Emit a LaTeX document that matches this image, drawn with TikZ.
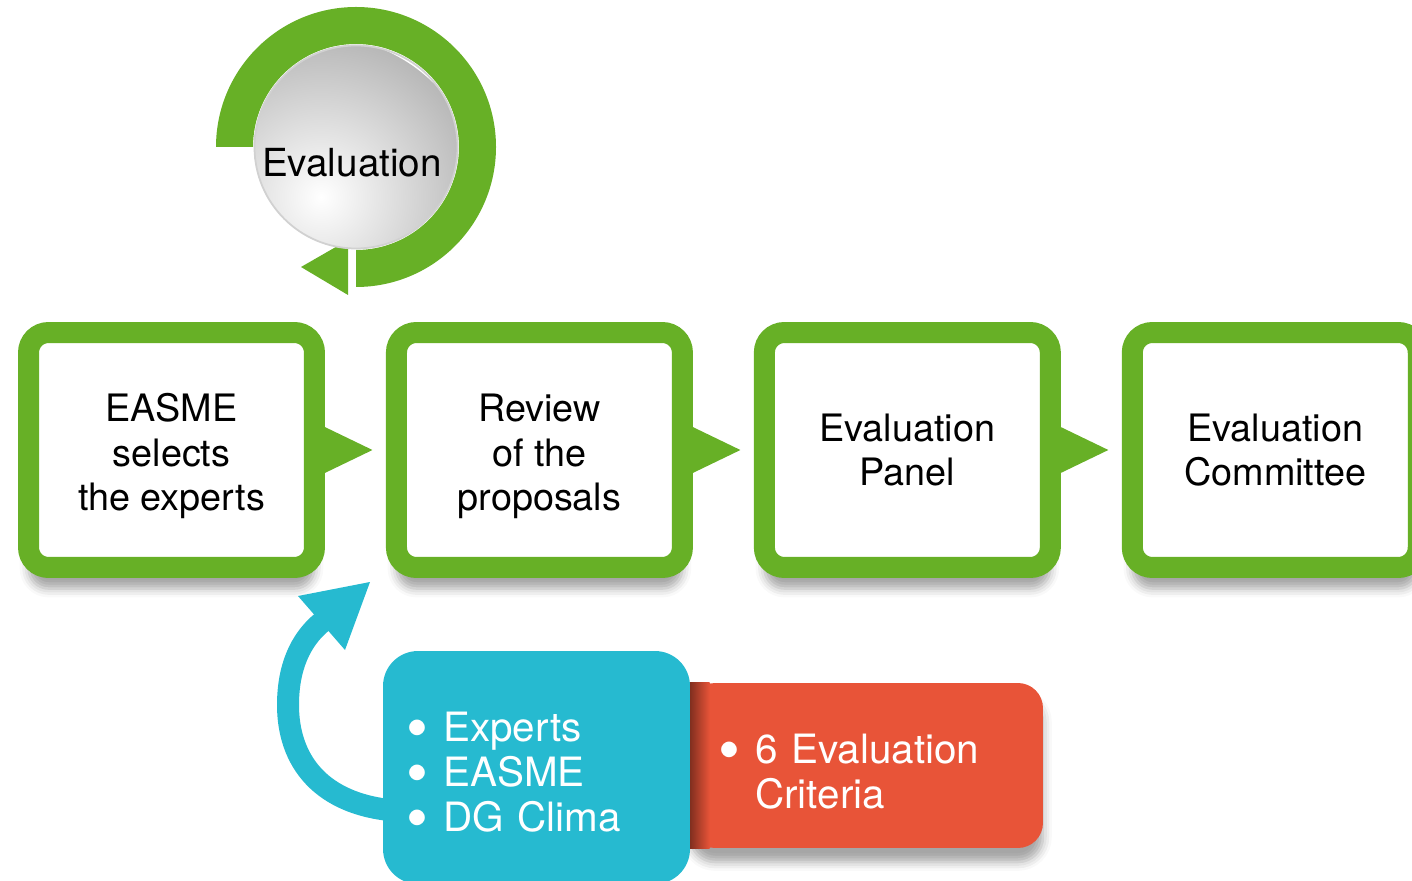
\documentclass[tikz,border=0pt]{standalone}
\usepackage{fontspec}
\setmainfont{TeX Gyre Heros}
\usetikzlibrary{positioning,calc,shadows.blur}
\definecolor{evgreen}{RGB}{103,176,38}
\definecolor{evblue}{RGB}{38,186,208}
\definecolor{evred}{RGB}{232,84,56}
\newcommand\evbullet{\makebox[0.8em][l]{\hspace{-0.12em}\smash{\raisebox{-0.2em}{\scalebox{1.55}{\textbullet}}}}}
\newcommand\evtop[1]{\rule{0pt}{#1}}

\begin{document}
\begin{tikzpicture}[x=0.02cm,y=-0.02cm,
    stagebox/.style={draw=evgreen,fill=white,line width=0.42cm,outer sep=0pt,
      rounded corners=0.4cm,minimum width=5.72cm,minimum height=4.7cm,align=center,
      font=\fontsize{21.5}{25.5}\selectfont,
      blur shadow={shadow xshift=0pt,shadow yshift=-12pt,shadow blur radius=5pt,shadow opacity=35}},
    listtext/.style={text=white,align=left,font=\fontsize{23}{25.5}\selectfont},
    node distance=1.64cm]
      \useasboundingbox(0,0)rectangle(1412,881);
      \clip(0,0)rectangle(1412,881);

      \node[stagebox](b1) at (171.5,450) {\evtop{23pt}EASME\\selects\\the experts};
      \node[stagebox,right=of b1](b2) {\evtop{23pt}Review\\of the\\proposals};
      \node[stagebox,right=of b2](b3) {Evaluation\\Panel};
      \node[stagebox,right=of b3](b4) {Evaluation\\Committee};

      \foreach \a in {b1,b2,b3}
        \fill[evgreen]($(\a.east)+(0,-28)$)--($(\a.east)+(58,0)$)--($(\a.east)+(0,28)$)--cycle;

      \coordinate(ring) at (356,147);
      \fill[evgreen]($(ring)+(180:140)$)arc[start angle=180,end angle=450,radius=140]
        --($(ring)+(90:103)$)arc[start angle=450,end angle=180,radius=103]--cycle;
      \fill[evgreen](348,240)--(348,295)--(301,267)--cycle;
      \begin{scope}
      \clip(ring)circle(102);
      \shade[inner color=white,outer color=black!28]($(ring)+(-35,50)$)circle(160);
      \end{scope}
      \draw[black!18,line width=1pt](ring)circle(101.5);
      \node[font=\fontsize{22}{26}\selectfont](evtitle) at (352,163) {Evaluation};

      \node[fill=evred,rounded corners=0.5cm,minimum width=7.06cm,minimum height=3.3cm,
        text width=5.74cm,inner xsep=0.66cm,listtext,
        blur shadow={shadow xshift=0pt,shadow yshift=-8pt,shadow blur radius=5pt,shadow opacity=35}]
        (crit) at (866.5,765.5) {\evtop{23.5pt}\evbullet 6 Evaluation\\\hspace{0.8em}Criteria};
      \shade[left color=evred!55!black,right color=evred](crit.north west)rectangle($(crit.south west)+(20,0)$);

      \coordinate(arrS) at (400,811);
      \coordinate(arrE) at (322,622);
      \draw[evblue,line width=0.44cm](arrS)..controls(320,806)and(288,760)..(288,705)
        ..controls(288,668)and(300,640)..(arrE);
      \fill[evblue](298,596)--(370,582)--(345,650)--cycle;

      \node[fill=evblue,rounded corners=0.7cm,minimum height=4.66cm,text width=5.02cm,
        inner xsep=0.56cm,listtext](team) at (536.5,767.5)
        {\evtop{22pt}\evbullet Experts\\\evbullet EASME\\\evbullet DG Clima};
    \end{tikzpicture}
\end{document}
